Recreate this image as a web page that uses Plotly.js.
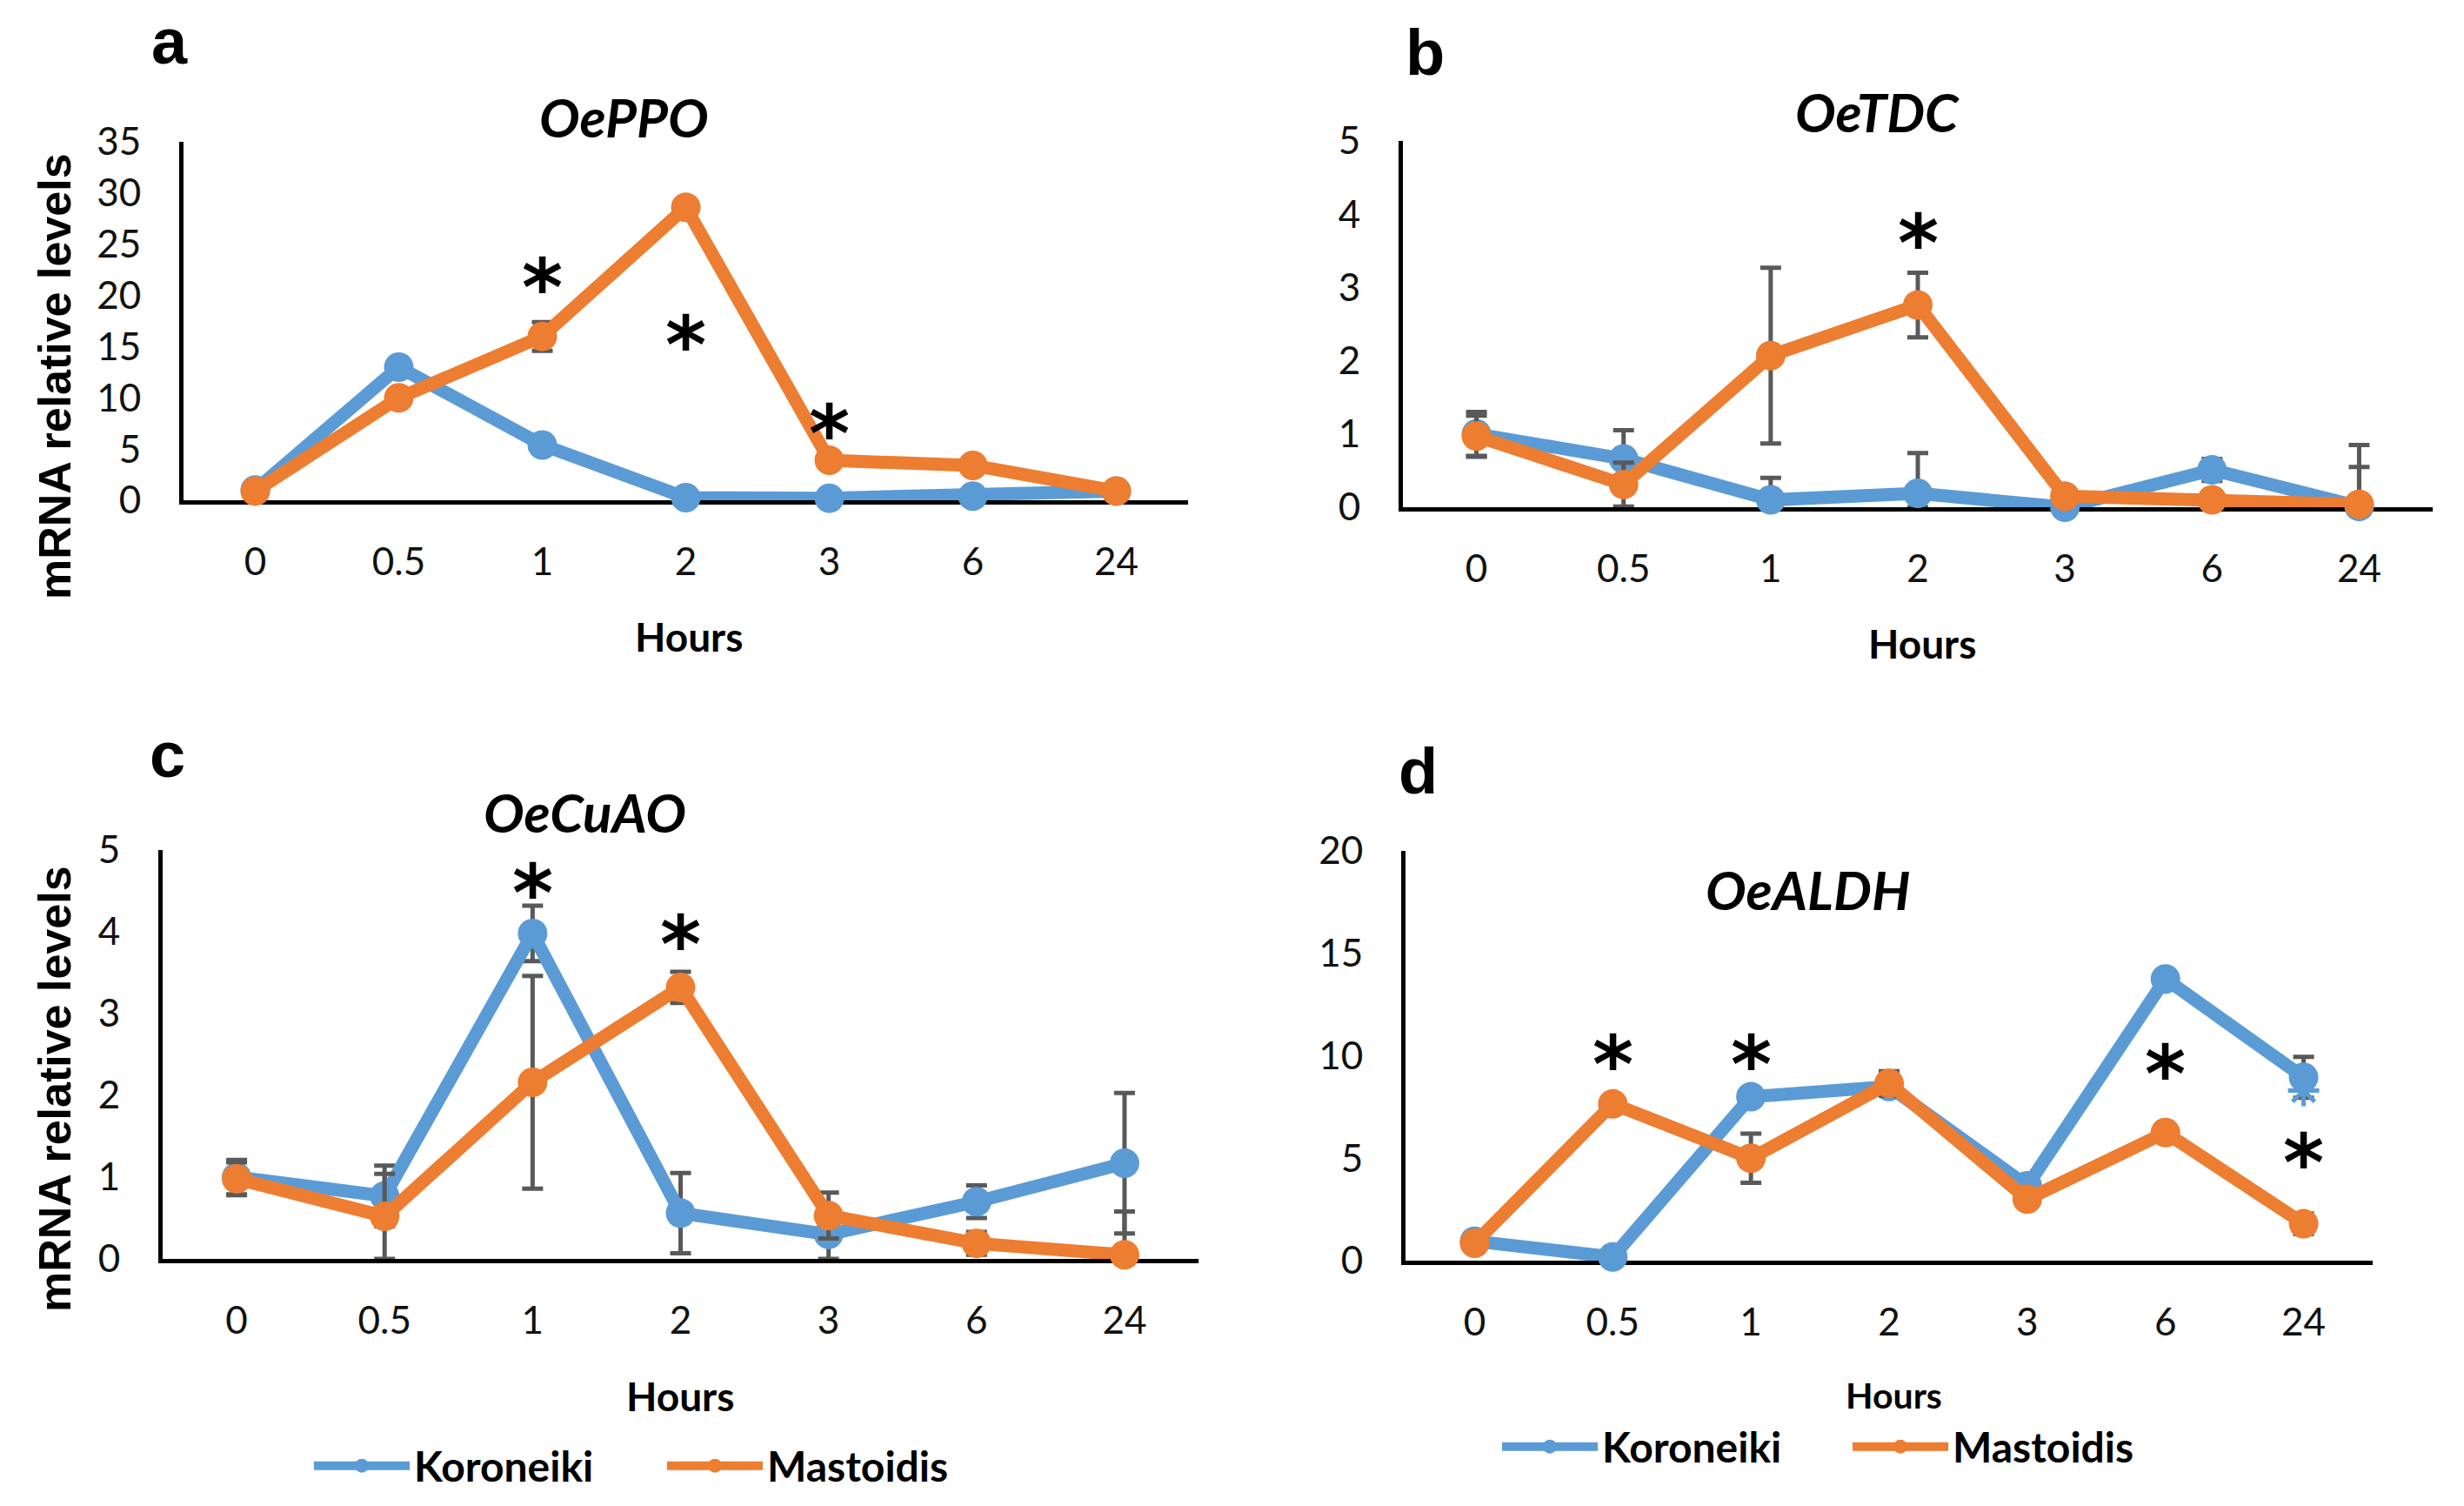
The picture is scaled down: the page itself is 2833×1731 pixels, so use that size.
<!DOCTYPE html>
<html><head><meta charset="utf-8">
<script src="https://cdn.plot.ly/plotly-3.0.1.min.js"></script>
<style>html,body{margin:0;padding:0;background:#fff}</style>
</head><body><div id="chart" style="width:2833px;height:1731px"></div>
<script>
// ---------- data ----------
const hours = ['0', '0.5', '1', '2', '3', '6', '24'];
const seriesNames = ['Koroneiki', 'Mastoidis'];

// a  OePPO
const ppoKor    = [1.0, 13.0, 5.4, 0.25, 0.2, 0.4, 0.9];
const ppoKorErr = [0.7, 0.4, 0.3, 0.05, 0.05, 0.1, 0.1];
const ppoMas    = [0.9, 10.0, 16.0, 28.6, 3.9, 3.4, 0.9];
const ppoMasErr = [0.3, 0.5, 1.4, 0.5, 0.3, 0.2, 0.2];
const ppoStarX  = ['1', '2', '3'];
const ppoStarY  = [21.8, 16.2, 7.5];

// b  OeTDC
const tdcKor    = [1.0, 0.66, 0.1, 0.19, 0.0, 0.51, 0.01];
const tdcKorErr = [0.3, 0.39, 0.3, 0.55, 0.12, 0.15, 0.84];
const tdcMas    = [0.97, 0.31, 2.07, 2.76, 0.15, 0.1, 0.04];
const tdcMasErr = [0.28, 0.3, 1.2, 0.44, 0.05, 0.05, 0.51];
const tdcStarX  = ['2'];
const tdcStarY  = [3.75];

// c  OeCuAO
const cuaoKor    = [1.0, 0.77, 3.98, 0.56, 0.3, 0.7, 1.17];
const cuaoKorErr = [0.21, 0.37, 0.34, 0.49, 0.3, 0.2, 0.86];
const cuaoMas    = [0.98, 0.52, 2.16, 3.32, 0.53, 0.19, 0.05];
const cuaoMasErr = [0.2, 0.52, 1.3, 0.19, 0.28, 0.14, 0.53];
const cuaoStarX  = ['1', '2'];
const cuaoStarY  = [4.6, 3.97];

// d  OeALDH
const aldhKor    = [0.95, 0.18, 8.0, 8.5, 3.65, 13.75, 8.95];
const aldhKorErr = [0.2, 0.3, 0.3, 0.4, 0.3, 0.3, 1.0];
const aldhMas    = [0.85, 7.65, 5.0, 8.65, 3.0, 6.25, 1.8];
const aldhMasErr = [0.2, 0.3, 1.2, 0.6, 0.3, 0.3, 0.5];
const aldhStarX  = ['0.5', '1', '6', '24'];
const aldhStarY  = [10.1, 10.1, 9.6, 5.3];
const aldhBlueStarX = ['24'];
const aldhBlueStarY = [8.3];

const panelLetters = ['a', 'b', 'c', 'd'];
const geneTitles = ['OePPO', 'OeTDC', 'OeCuAO', 'OeALDH'];
const yTitle = 'mRNA relative levels';
const xTitle = 'Hours';

// ---------- styling ----------
const W = 2833, H = 1731;
const BLUE = '#5B9BD5', ORANGE = '#ED7D31', ERR = '#595959';
const TICKFONT = {family: 'Lato, "Open Sans", sans-serif', size: 44, color: '#111'};
const px = v => v / W;
const py = v => 1 - v / H;

function series(xa, ya, vals, errs, name, color, legendId, show) {
  return {
    type: 'scatter', mode: 'lines+markers', x: hours, y: vals, name: name,
    xaxis: xa, yaxis: ya, legend: legendId, showlegend: show, cliponaxis: false,
    line: {color: color, width: 15},
    marker: {color: color, size: 34},
    error_y: {type: 'data', symmetric: false, array: errs,
      arrayminus: errs.map((e, i) => Math.min(e, vals[i])),
      color: ERR, thickness: 5, width: 12}
  };
}

const data = [
  series('x', 'y', ppoKor, ppoKorErr, seriesNames[0], BLUE, 'legend', false),
  series('x', 'y', ppoMas, ppoMasErr, seriesNames[1], ORANGE, 'legend', false),
  series('x2', 'y2', tdcKor, tdcKorErr, seriesNames[0], BLUE, 'legend', false),
  series('x2', 'y2', tdcMas, tdcMasErr, seriesNames[1], ORANGE, 'legend', false),
  series('x3', 'y3', cuaoKor, cuaoKorErr, seriesNames[0], BLUE, 'legend', true),
  series('x3', 'y3', cuaoMas, cuaoMasErr, seriesNames[1], ORANGE, 'legend', true),
  series('x4', 'y4', aldhKor, aldhKorErr, seriesNames[0], BLUE, 'legend2', true),
  series('x4', 'y4', aldhMas, aldhMasErr, seriesNames[1], ORANGE, 'legend2', true),
  // light-blue significance asterisk drawn over the Koroneiki 24 h point
  {type: 'scatter', mode: 'markers', x: aldhBlueStarX, y: aldhBlueStarY, xaxis: 'x4', yaxis: 'y4',
    showlegend: false, cliponaxis: false, hoverinfo: 'skip',
    marker: {symbol: 'asterisk-open', size: 30, color: BLUE, line: {color: BLUE, width: 5}}}
];

function xaxis(x0, x1, anchor) {
  return {domain: [px(x0), px(x1)], anchor: anchor, type: 'category',
    categoryorder: 'array', categoryarray: hours, range: [-0.5, 6.5],
    showline: true, linecolor: '#000', linewidth: 5, ticks: '', showgrid: false,
    zeroline: false, tickfont: TICKFONT, ticklabelstandoff: 28, layer: 'below traces'};
}
function yaxis(y0, y1, anchor, max, dtick) {
  return {domain: [py(y1), py(y0)], anchor: anchor, range: [0, max], dtick: dtick,
    showline: true, linecolor: '#000', linewidth: 5, ticks: '', showgrid: false,
    zeroline: false, tickfont: TICKFONT, ticklabelstandoff: 35, layer: 'below traces'};
}

const ann = [];
function paperText(text, x, y, font, extra) {
  ann.push(Object.assign({text: text, xref: 'paper', yref: 'paper', x: px(x), y: py(y),
    xanchor: 'center', yanchor: 'middle', showarrow: false, font: font}, extra || {}));
}
const letterFont = {family: '"Liberation Sans", Arial, sans-serif', size: 74, color: '#000', weight: 700};
paperText(panelLetters[0], 195, 48, letterFont);
paperText(panelLetters[1], 1638, 60, letterFont);
paperText(panelLetters[2], 192, 868, letterFont);
paperText(panelLetters[3], 1630, 886, letterFont);

const titleFont = {family: 'Lato, sans-serif', size: 62, color: '#000', weight: 700, style: 'italic'};
paperText(geneTitles[0], 718, 134, titleFont);
paperText(geneTitles[1], 2158, 128, titleFont);
paperText(geneTitles[2], 672, 933, titleFont);
paperText(geneTitles[3], 2078, 1022, titleFont);

const yTitleFont = {family: '"Liberation Sans", Arial, sans-serif', size: 52, color: '#000', weight: 700};
paperText(yTitle, 63, 433, yTitleFont, {textangle: -90});
paperText(yTitle, 63, 1252, yTitleFont, {textangle: -90});

const hoursFont = {family: 'Lato, sans-serif', size: 46, color: '#000', weight: 700};
paperText(xTitle, 792, 731, hoursFont);
paperText(xTitle, 2210, 739, hoursFont);
paperText(xTitle, 782, 1604, hoursFont);
paperText(xTitle, 2177, 1603, Object.assign({}, hoursFont, {size: 41}));

// significance asterisks, placed through the category axis (category index)
function stars(xs, ys, xr, yr, color) {
  xs.forEach((x, i) => ann.push({text: '*', x: hours.indexOf(x), y: ys[i], xref: xr, yref: yr,
    xanchor: 'center', yanchor: 'middle', yshift: -12, showarrow: false,
    font: {family: '"DejaVu Sans", sans-serif', size: 90, color: color, weight: 700}}));
}
stars(ppoStarX, ppoStarY, 'x', 'y', '#000');
stars(tdcStarX, tdcStarY, 'x2', 'y2', '#000');
stars(cuaoStarX, cuaoStarY, 'x3', 'y3', '#000');
stars(aldhStarX, aldhStarY, 'x4', 'y4', '#000');

const legendFont = {family: 'Lato, sans-serif', size: 48, color: '#000', weight: 700};
const layout = {
  width: W, height: H, margin: {l: 0, r: 0, t: 0, b: 0},
  paper_bgcolor: '#fff', plot_bgcolor: 'rgba(0,0,0,0)',
  xaxis: xaxis(211, 1366, 'y'),   yaxis: yaxis(163, 575, 'x', 35, 5),
  xaxis2: xaxis(1613, 2797, 'y2'), yaxis2: yaxis(162, 583, 'x2', 5, 1),
  xaxis3: xaxis(187, 1378, 'y3'), yaxis3: yaxis(977, 1447, 'x3', 5, 1),
  xaxis4: xaxis(1616, 2728, 'y4'), yaxis4: yaxis(978, 1449, 'x4', 20, 5),
  legend: {orientation: 'h', x: px(356), y: py(1685), xanchor: 'left', yanchor: 'middle',
    font: legendFont, itemwidth: 110, entrywidth: 281, entrywidthmode: 'pixels', bgcolor: 'rgba(0,0,0,0)'},
  legend2: {orientation: 'h', x: px(1722), y: py(1663), xanchor: 'left', yanchor: 'middle',
    font: legendFont, itemwidth: 110, entrywidth: 278, entrywidthmode: 'pixels', bgcolor: 'rgba(0,0,0,0)'},
  annotations: ann,
  showlegend: true
};

Plotly.newPlot('chart', data, layout, {staticPlot: true, displayModeBar: false});
</script></body></html>
